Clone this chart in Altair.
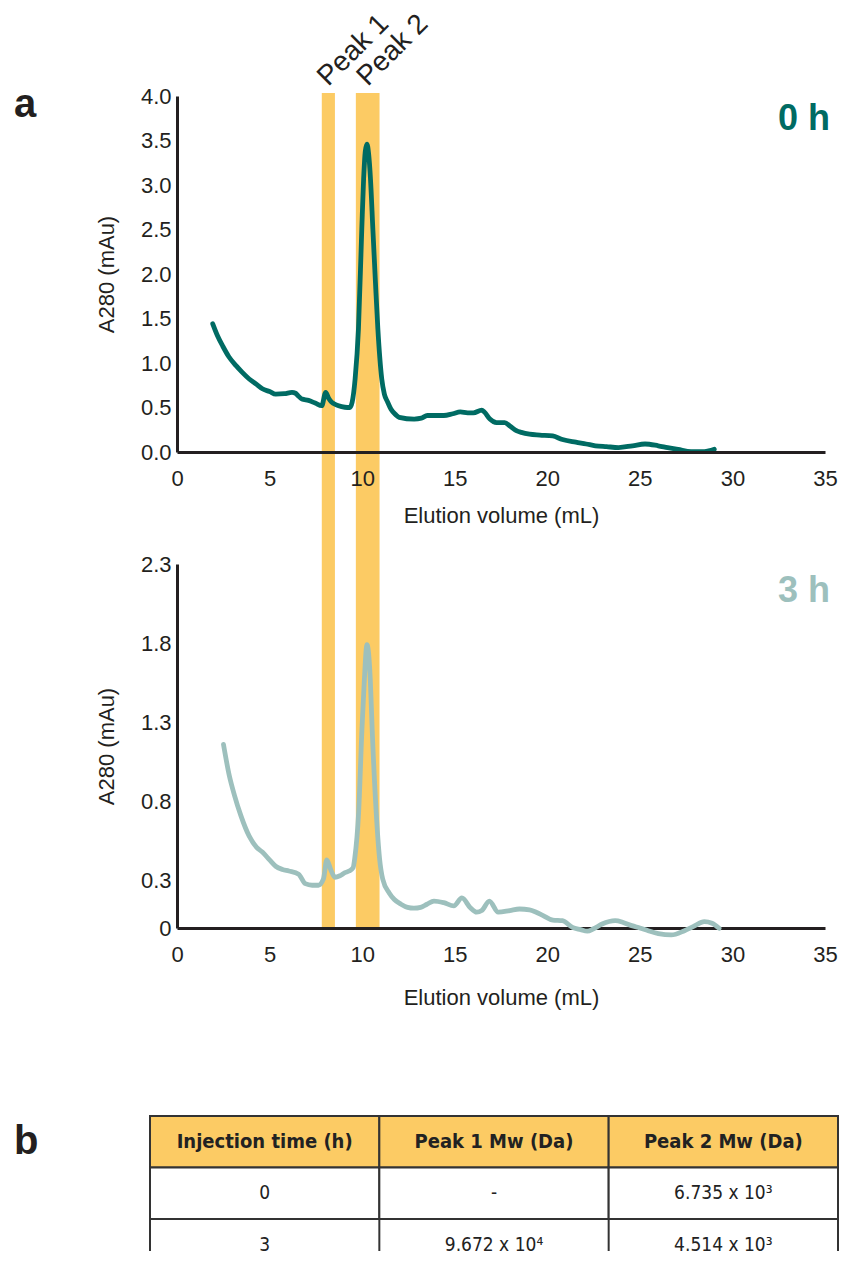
import altair as alt
import pandas as pd

# ---------------- data ----------------
vol_0h = [1.93, 2.2, 2.47, 2.8, 3.19, 3.5, 3.9, 4.3, 4.61, 5.0, 5.33, 5.8, 6.21, 6.4, 6.55,
          6.75, 7.1, 7.46, 7.82, 8.03, 8.2, 8.35, 8.6, 8.89, 9.2, 9.33, 9.46, 9.62, 9.8,
          9.98, 10.08, 10.17, 10.26, 10.35, 10.45, 10.58, 10.72, 10.85, 11.06, 11.2, 11.38,
          11.56, 11.81, 12.0, 12.81, 13.2, 13.52, 14.0, 14.41, 14.9, 15.3, 15.7, 16.01,
          16.46, 16.6, 16.9, 17.26, 17.7, 18.0, 18.33, 18.6, 19.04, 19.6, 20.29, 20.82,
          21.54, 22.1, 22.6, 23.2, 23.85, 24.6, 25.28, 25.99, 26.5, 27.06, 27.77, 28.48, 29.02]
abs_0h = [1.44, 1.30, 1.19, 1.07, 0.97, 0.90, 0.82, 0.76, 0.71, 0.68, 0.65, 0.655, 0.67, 0.66, 0.63,
          0.595, 0.58, 0.55, 0.52, 0.67, 0.60, 0.56, 0.53, 0.51, 0.50, 0.50, 0.56, 0.82, 1.38,
          2.5, 3.07, 3.38, 3.46, 3.35, 3.07, 2.5, 1.9, 1.38, 0.82, 0.65, 0.56,
          0.48, 0.42, 0.39, 0.37, 0.38, 0.41, 0.41, 0.41, 0.43, 0.45, 0.44, 0.44,
          0.47, 0.45, 0.37, 0.33, 0.33, 0.29, 0.24, 0.22, 0.20, 0.19, 0.18, 0.14,
          0.11, 0.09, 0.07, 0.06, 0.05, 0.07, 0.09, 0.07, 0.05, 0.03, 0.005, 0.005, 0.03]

vol_3h = [2.51, 2.83, 3.1, 3.45, 3.9, 4.3, 4.61, 5.0, 5.33, 5.7, 6.04, 6.57, 6.93, 7.3, 7.64,
          7.91, 8.09, 8.3, 8.53, 8.8, 9.07, 9.3, 9.51, 9.6, 9.81, 9.99, 10.12, 10.26, 10.44,
          10.54, 10.76, 10.94, 11.11, 11.47, 11.74, 12.1, 12.45, 12.8, 13.16, 13.5, 13.88,
          14.41, 14.95, 15.39, 15.83, 16.19, 16.46, 16.87, 17.35, 17.97, 18.5, 19.04, 19.4,
          19.75, 20.3, 20.82, 21.36, 21.8, 22.16, 22.5, 22.96, 23.67, 24.1, 24.56, 25.0,
          25.45, 26.0, 26.7, 27.41, 27.9, 28.48, 28.9, 29.28]
abs_3h = [1.16, 0.96, 0.84, 0.71, 0.58, 0.51, 0.48, 0.43, 0.39, 0.37, 0.36, 0.34, 0.28, 0.27, 0.27,
          0.31, 0.43, 0.37, 0.32, 0.33, 0.35, 0.36, 0.38, 0.44, 0.73, 1.26, 1.57, 1.79, 1.57,
          1.26, 0.73, 0.44, 0.31, 0.22, 0.18, 0.15, 0.13, 0.125, 0.13, 0.15, 0.17,
          0.16, 0.14, 0.19, 0.13, 0.10, 0.11, 0.17, 0.10, 0.11, 0.12, 0.115, 0.10,
          0.08, 0.05, 0.046, 0.004, -0.01, -0.02, -0.005, 0.025, 0.046, 0.035, 0.015, 0.0,
          -0.017, -0.035, -0.044, -0.017, 0.01, 0.04, 0.03, -0.002]

peak_names = ["Peak 1", "Peak 2"]
peak_start = [7.82, 9.66]
peak_end = [8.53, 10.94]

x_ticks = [0, 5, 10, 15, 20, 25, 30, 35]
y_ticks_0h = [0, 0.5, 1.0, 1.5, 2.0, 2.5, 3.0, 3.5, 4.0]
y_ticks_3h = [0, 0.3, 0.8, 1.3, 1.8, 2.3]

series_labels = ["0 h", "3 h"]
panel_labels = ["a", "b"]

table_columns = ["Injection time (h)", "Peak 1 Mw (Da)", "Peak 2 Mw (Da)"]
table_row_0h = ["0", "-", "6.735 x 10³"]
table_row_3h = ["3", "9.672 x 10⁴", "4.514 x 10³"]

# ---------------- styles ----------------
FONT = "Liberation Sans"
NARROW = "Liberation Sans Narrow, DejaVu Sans Condensed, Liberation Sans, sans-serif"
INK = "#231F20"
GRID_INK = "#333333"
BAND = "#FCCB64"
TEAL_DARK = "#006B63"
TEAL_LIGHT = "#9DC0BD"

W = 648
H_TOP = 356
H_BOT = 364
GAP = 112
TBL_H = 211

xscale = alt.Scale(domain=[0, 35], nice=False)


def x_axis(title_pad, z):
    return alt.Axis(values=x_ticks, title="Elution volume (mL)", titlePadding=title_pad,
                    labelPadding=16, format="d", zindex=z, labelFlush=False)


# ---------------- top panel (0 h) ----------------
df0 = pd.DataFrame({"vol": vol_0h, "a280": abs_0h})
bands = pd.DataFrame({"peak": peak_names, "start": peak_start, "end": peak_end})
bands["mid"] = (bands["start"] + bands["end"]) / 2

xa_top = x_axis(16, 1)
ya_top = alt.Axis(values=y_ticks_0h, format=".1f", title="A280 (mAu)")
yscale_top = alt.Scale(domain=[0, 4], nice=False)

band_layer = alt.Chart(bands).mark_rect(color=BAND).encode(
    x=alt.X("start:Q", scale=xscale, axis=xa_top),
    x2="end:Q",
    y=alt.value(-3),
    y2=alt.value(H_TOP + GAP + H_BOT),
)

peak_text = alt.Chart(bands).mark_text(
    angle=315, align="left", baseline="alphabetic", fontSize=28, font=FONT, color=INK
).encode(
    x=alt.X("mid:Q", scale=xscale, axis=xa_top),
    y=alt.value(-9),
    text="peak:N",
)

line_top = alt.Chart(df0).mark_line(
    color=TEAL_DARK, strokeWidth=4.8, interpolate="monotone", strokeCap="round", strokeJoin="round"
).encode(
    x=alt.X("vol:Q", scale=xscale, axis=xa_top),
    y=alt.Y("a280:Q", scale=yscale_top, axis=ya_top),
)

lbl_a = alt.Chart(pd.DataFrame({"t": [panel_labels[0]]})).mark_text(
    align="left", baseline="alphabetic", fontSize=40, fontWeight="bold", font=FONT, color=INK
).encode(x=alt.value(-163), y=alt.value(21), text="t:N")

lbl_0h = alt.Chart(pd.DataFrame({"t": [series_labels[0]]})).mark_text(
    align="right", baseline="alphabetic", fontSize=36, fontWeight="bold", font=FONT, color=TEAL_DARK
).encode(x=alt.value(W + 5), y=alt.value(34), text="t:N")

top = alt.layer(band_layer, line_top, peak_text, lbl_a, lbl_0h).properties(width=W, height=H_TOP)

# ---------------- bottom panel (3 h) ----------------
df3 = pd.DataFrame({"vol": vol_3h, "a280": abs_3h})
xa_bot = x_axis(22, 0)
ya_bot = alt.Axis(values=y_ticks_3h, title="A280 (mAu)",
                  labelExpr="datum.value == 0 ? '0' : format(datum.value, '.1f')")
yscale_bot = alt.Scale(domain=[0, 2.3], nice=False, zero=False)

line_bot = alt.Chart(df3).mark_line(
    color=TEAL_LIGHT, strokeWidth=4.8, interpolate="monotone", strokeCap="round", strokeJoin="round"
).encode(
    x=alt.X("vol:Q", scale=xscale, axis=xa_bot),
    y=alt.Y("a280:Q", scale=yscale_bot, axis=ya_bot),
)

lbl_3h = alt.Chart(pd.DataFrame({"t": [series_labels[1]]})).mark_text(
    align="right", baseline="alphabetic", fontSize=36, fontWeight="bold", font=FONT, color=TEAL_LIGHT
).encode(x=alt.value(W + 5), y=alt.value(38), text="t:N")

bottom = alt.layer(line_bot, lbl_3h).properties(width=W, height=H_BOT)

# ---------------- table (b) ----------------
rows = []
for c, name in enumerate(table_columns):
    rows.append({"col": name, "row": 0, "text": name, "header": True})
    rows.append({"col": name, "row": 1, "text": table_row_0h[c], "header": False})
    rows.append({"col": name, "row": 2, "text": table_row_3h[c], "header": False})
tdf = pd.DataFrame(rows)

tx_scale = alt.Scale(range=[-27, 661], paddingInner=0, paddingOuter=0)
ty_scale = alt.Scale(range=[76, 230.5], paddingInner=0, paddingOuter=0)
tx = alt.X("col:N", sort=table_columns, axis=None, scale=tx_scale)
ty = alt.Y("row:O", axis=None, scale=ty_scale)

cells = alt.Chart(tdf).transform_filter("datum.row < 2").mark_rect(
    stroke=GRID_INK, strokeWidth=2
).encode(
    x=tx, y=ty,
    fill=alt.condition("datum.header", alt.value(BAND), alt.value("white")),
)
# last row runs past the bottom of the page: only its vertical borders are visible
open_left = alt.Chart(tdf).transform_filter("datum.row == 2").mark_rule(
    color=GRID_INK, strokeWidth=2
).encode(
    x=alt.X("col:N", sort=table_columns, axis=None, scale=tx_scale, bandPosition=0),
    y=alt.Y("row:O", axis=None, scale=ty_scale, bandPosition=0),
    y2=alt.value(TBL_H),
)
open_right = alt.Chart(tdf).transform_filter(
    alt.datum.row == 2
).transform_filter(alt.datum.col == table_columns[-1]).mark_rule(
    color=GRID_INK, strokeWidth=2
).encode(
    x=alt.X("col:N", sort=table_columns, axis=None, scale=tx_scale, bandPosition=1),
    y=alt.Y("row:O", axis=None, scale=ty_scale, bandPosition=0),
    y2=alt.value(TBL_H),
)
head_txt = alt.Chart(tdf).transform_filter("datum.header").mark_text(
    font=NARROW, fontSize=20, fontWeight="bold", color="#222222"
).encode(x=tx, y=ty, text="text:N")
body_txt = alt.Chart(tdf).transform_filter("!datum.header").mark_text(
    font=NARROW, fontSize=19, color="#222222"
).encode(x=tx, y=ty, text="text:N")

lbl_b = alt.Chart(pd.DataFrame({"t": [panel_labels[1]]})).mark_text(
    align="left", baseline="alphabetic", fontSize=40, fontWeight="bold", font=FONT, color=INK
).encode(x=alt.value(-163), y=alt.value(1155 - 1117 + 76), text="t:N")

table = alt.layer(cells, open_left, open_right, head_txt, body_txt, lbl_b).properties(
    width=W, height=TBL_H
)

chart = alt.vconcat(top, bottom, table, spacing=GAP, bounds="flush").properties(
    padding={"left": 6, "top": 1, "right": 0, "bottom": 0}
).configure_view(stroke=None).configure_axis(
    ticks=False, grid=False, domainColor=INK, domainWidth=3,
    labelFont=FONT, labelFontSize=22, labelColor=INK,
    titleFont=FONT, titleFontSize=22, titleFontWeight="normal", titleColor=INK,
).configure_axisY(labelPadding=6, titlePadding=22)

chart.save("out.html", embed_options={"renderer": "svg", "actions": False})
